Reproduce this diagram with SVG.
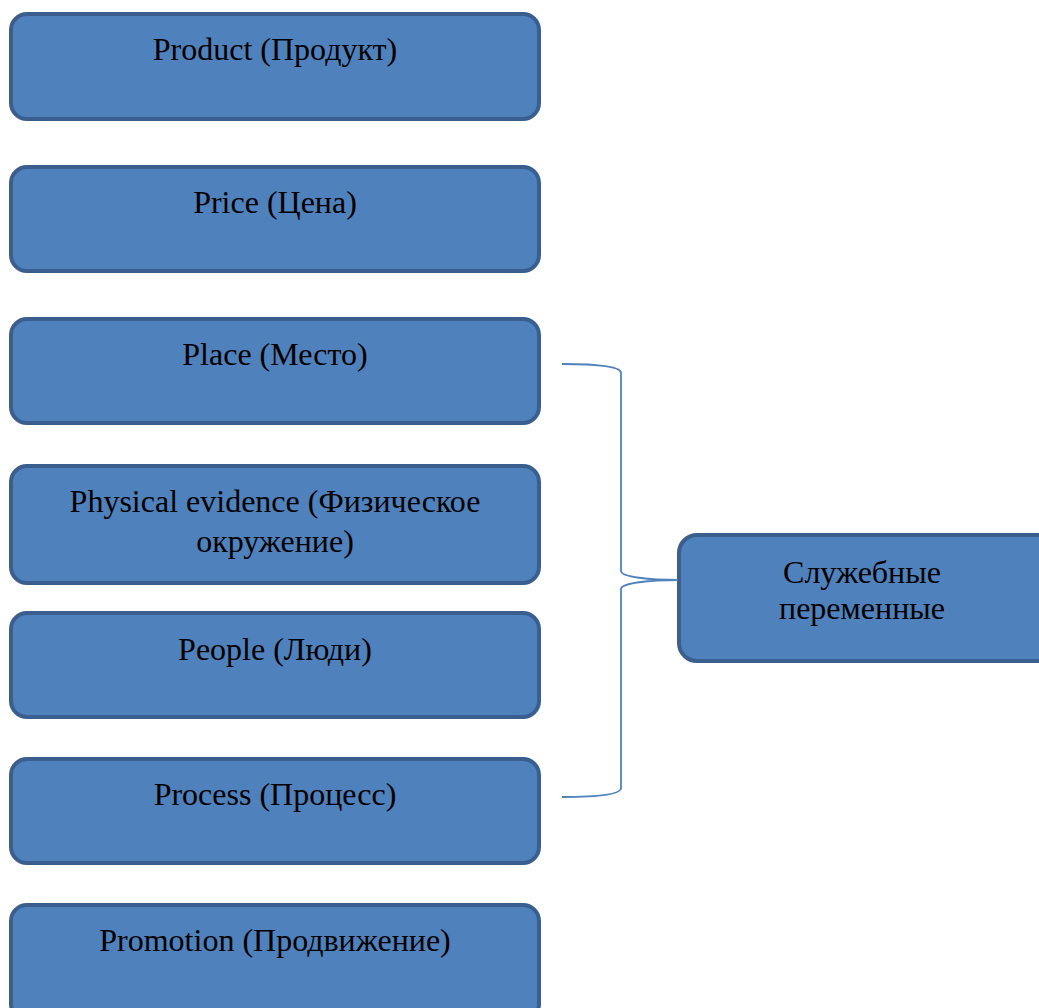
<svg xmlns="http://www.w3.org/2000/svg" width="1039" height="1008" viewBox="0 0 1039 1008">
<style>
.box{fill:#4f81bd;stroke:#3a5f8f;stroke-width:4}
.t{font-family:'Liberation Serif','Times New Roman','DejaVu Serif',serif;font-size:32px;fill:#000;text-anchor:middle}
.br{fill:none;stroke:#4f81bd;stroke-width:1.8}
</style>
<rect width="1039" height="1008" fill="#fff"/>
<g id="product"><rect class="box" x="11" y="14" width="528" height="105" rx="16"/><text class="t" x="275" y="60">Product (Продукт)</text></g>
<g id="price"><rect class="box" x="11" y="167" width="528" height="104" rx="16"/><text class="t" x="275" y="213">Price (Цена)</text></g>
<g id="place"><rect class="box" x="11" y="319" width="528" height="104" rx="16"/><text class="t" x="275" y="365">Place (Место)</text></g>
<g id="physical"><rect class="box" x="11" y="466" width="528" height="117" rx="16"/><text class="t" x="275" y="512">Physical evidence (Физическое</text><text class="t" x="275" y="552">окружение)</text></g>
<g id="people"><rect class="box" x="11" y="613" width="528" height="104" rx="16"/><text class="t" x="275" y="660">People (Люди)</text></g>
<g id="process"><rect class="box" x="11" y="759" width="528" height="104" rx="16"/><text class="t" x="275" y="805">Process (Процесс)</text></g>
<g id="promotion"><rect class="box" x="11" y="905" width="528" height="115" rx="16"/><text class="t" x="275" y="951">Promotion (Продвижение)</text></g>
<g id="service"><rect class="box" x="679" y="535" width="380" height="126" rx="18"/><text class="t" x="862" y="583">Служебные</text><text class="t" x="862" y="619">переменные</text></g>
<g id="connectors">
<path class="br" d="M562,364 C600,364 621,367 621,373 L621,571 C621,577 650,580 678,580 C650,580 621,583 621,589 L621,788 C621,794 600,797 562,797"/>
</g>
</svg>
